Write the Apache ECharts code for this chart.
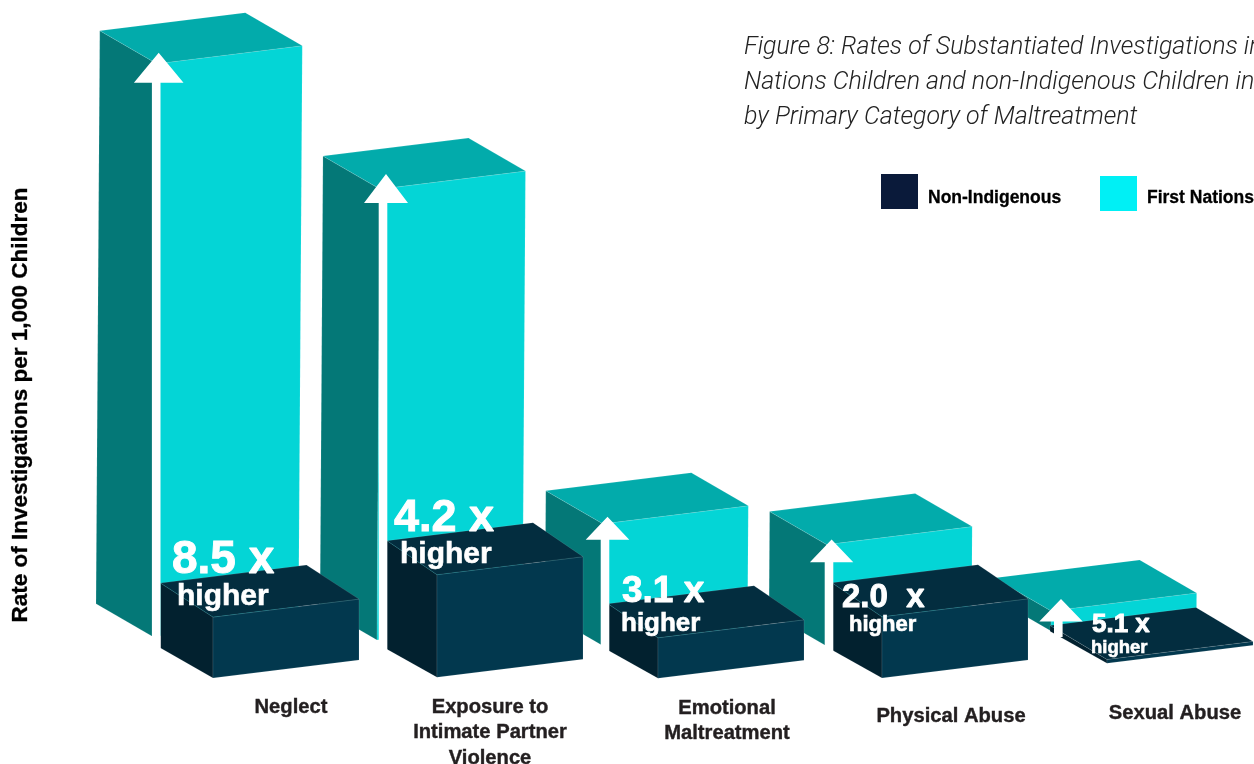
<!DOCTYPE html>
<html><head><meta charset="utf-8">
<style>html,body{margin:0;padding:0;background:#fff;overflow:hidden}#c{width:1254px;height:764px}</style>
<script src="https://cdn.jsdelivr.net/npm/echarts@6/dist/echarts.min.js"></script>
</head><body><div id="c"></div>
<script>
// ---- data ----
const CATEGORIES = ['Neglect','Exposure to\nIntimate Partner\nViolence','Emotional\nMaltreatment','Physical Abuse','Sexual Abuse'];
const FIRST_NATIONS = [19.1,15.03,4.05,3.37,0.67];
const NON_INDIGENOUS = [2.03,3.42,1.35,2.04,0.13];
const RATIOS = ['8.5 x','4.2 x','3.1 x','2.0  x','5.1 x'];
const HIGHER = 'higher';
const AXIS_TITLE = 'Rate of Investigations per 1,000 Children';
const FIGURE_TITLE = 'Figure 8: Rates of Substantiated Investigations in\nNations Children and non-Indigenous Children in\nby Primary Category of Maltreatment';

// ---- layout / perspective constants ----
const FN_W=[145.5,-18], FN_D=[57,33], TAPER=0.0066;
const FN_OFF_X=[-72,-72,-71,-71,-70], FN_BASE_SHIFT=[-3.3,0,5.3,5.7,-9];
const NI_W=[146,-18];
const NI_OFF_X=[-12,-12,-15,-15,-14], NI_BASE_SHIFT=[38,37.3,38.3,38,23.3];
const NI_DX=[52.5,50,50,50,57], NI_DY_TOP=34, NI_DY_BOT=[30,28,28,28,32];
const ARROW_DX=[-66.3,-63,-65.5,-65.4,-60], SHAFT_DX=[-2.5,-3,-2.5,-2.6,-2.7], ARROW_TIP=[-11,-15,-7,-5,-12], ARROW_HW=[24.8,22,21.8,21.7,21.7], ARROW_HH=[30,29,23,22.7,22.7];
const ARROW_END=[650,650,652,652,637];
const RATIO_X=[172,394,622,842,1092], RATIO_BASE=[574,532,603,608,632.7], RATIO_FONT=[46,45,37,33,26];
const HIGH_X=[177,400,621,849,1091], HIGH_BASE=[606,564,632,632,653], HIGH_FONT=[30,30,26,22,18.5];
const LABEL_DX=[66,41,54,54,54], LABEL_Y=[707,707,708,716,713], LABEL_LH=25.5;
const FN_C={front:'#04d5d6',top:'#02abab',side:'#047877'}, NI_C={front:'#02384e',top:'#032d3f',side:'#02212f'};
const FONT='"Liberation Sans",Arial,sans-serif';

const edge=(c)=>({fill:c,stroke:'rgba(255,255,255,0.18)',lineWidth:0.6});
function poly(points,c){return{type:'polygon',shape:{points},style:edge(c)};}

function renderFN(p,api){
  const i=api.value(0),zero=api.coord([i,0]),top=api.coord([i,api.value(1)]);
  const h=zero[1]-top[1],bx=zero[0]+FN_OFF_X[i],by=zero[1]+FN_BASE_SHIFT[i];
  const t=[bx+h*TAPER,by-h];
  const add=(a,b,s=1)=>[a[0]+b[0]*s,a[1]+b[1]*s];
  const b=[bx,by];
  return{type:'group',children:[
    poly([add(t,FN_D,-1),t,b,add(b,FN_D,-1)],FN_C.side),
    poly([t,add(t,FN_W),add(b,FN_W),b],FN_C.front),
    poly([add(t,FN_D,-1),add(add(t,FN_D,-1),FN_W),add(t,FN_W),t],FN_C.top)
  ]};
}
function renderNI(p,api){
  const i=api.value(0),zero=api.coord([i,0]),top=api.coord([i,api.value(1)]);
  const h=zero[1]-top[1],bx=zero[0]+NI_OFF_X[i],by=zero[1]+NI_BASE_SHIFT[i];
  const t=[bx,by-h],b=[bx,by],tb=[bx-NI_DX[i],by-h-NI_DY_TOP],bb=[bx-NI_DX[i],by-NI_DY_BOT[i]];
  const add=(a,c)=>[a[0]+c[0],a[1]+c[1]];
  return{type:'group',children:[
    poly([tb,t,b,bb],NI_C.side),
    poly([t,add(t,NI_W),add(b,NI_W),b],NI_C.front),
    poly([tb,add(tb,NI_W),add(t,NI_W),t],NI_C.top)
  ]};
}
function renderArrow(p,api){
  const i=api.value(0),zero=api.coord([i,0]),top=api.coord([i,api.value(1)]);
  const cx=zero[0]+ARROW_DX[i],sx=cx+SHAFT_DX[i],tip=top[1]+FN_BASE_SHIFT[i]+ARROW_TIP[i];
  const hw=ARROW_HW[i],hh=ARROW_HH[i],s=4.3;
  return{type:'polygon',shape:{points:[[cx,tip],[cx+hw,tip+hh],[sx+s,tip+hh],[sx+s,ARROW_END[i]],[sx-s,ARROW_END[i]],[sx-s,tip+hh],[cx-hw,tip+hh]]},style:{fill:'#fff'}};
}
function tx(text,x,y,size,fill,align,vAlign,bw){
  return{type:'text',style:{text,x,y,fill,stroke:fill,lineWidth:bw||0.4,fontSize:size,fontWeight:'bold',fontFamily:FONT,align:align||'left',verticalAlign:vAlign||'middle',lineHeight:LABEL_LH}};
}
function renderRatio(p,api){
  const i=api.value(0);
  const a=tx(RATIOS[i],RATIO_X[i],RATIO_BASE[i]-0.30*RATIO_FONT[i],RATIO_FONT[i],'#fff','left','middle',0.9);
  const b=tx(HIGHER,HIGH_X[i],HIGH_BASE[i]-0.30*HIGH_FONT[i],HIGH_FONT[i],'#fff','left','middle',0.6);
  a.style.lineHeight=RATIO_FONT[i]; b.style.lineHeight=HIGH_FONT[i];
  return{type:'group',children:[a,b]};
}
function renderLabel(p,api){
  const i=api.value(0),zero=api.coord([i,0]);
  return tx(CATEGORIES[i],zero[0]+LABEL_DX[i],LABEL_Y[i]-LABEL_LH/2,20.2,'#231f20','center','top');
}
const idx=(arr)=>arr.map((v,i)=>[i,v]);
const legendRich=(pad)=>({formatter:'{a|{name}}',textStyle:{rich:{a:{fontFamily:FONT,fontWeight:'bold',fontSize:17.5,color:'#000',textBorderColor:'#000',textBorderWidth:0.3,padding:[pad,0,0,5]}}}});
const chart=echarts.init(document.getElementById('c'),null,{renderer:'canvas'});
chart.setOption({
  animation:false,
  backgroundColor:'#fff',
  title:{text:FIGURE_TITLE,left:744,top:30,padding:0,textStyle:{fontFamily:'Roboto',fontStyle:'italic',fontWeight:300,fontSize:25,lineHeight:35,color:'#222'}},
  legend:[
    Object.assign({data:['Non-Indigenous'],left:881,top:174,itemWidth:37,itemHeight:35,icon:'rect',padding:0},legendRich(13)),
    Object.assign({data:['First Nations'],left:1100,top:176,itemWidth:37,itemHeight:35,icon:'rect',padding:0},legendRich(9))
  ],
  grid:{left:113,top:40,width:1120,height:600,outerBoundsMode:'none'},
  xAxis:{type:'category',data:CATEGORIES,axisLine:{show:false},axisTick:{show:false},axisLabel:{show:false}},
  yAxis:{type:'value',min:0,max:20,interval:5,splitLine:{show:false},axisLine:{show:false},axisTick:{show:false},axisLabel:{show:false},
    name:AXIS_TITLE,nameLocation:'middle',nameGap:81,nameRotate:90,
    nameTextStyle:{fontFamily:FONT,fontWeight:'bold',fontSize:22.5,color:'#000',textBorderColor:'#000',textBorderWidth:0.3,padding:[0,130,0,0]}},
  series:[
    {name:'First Nations',type:'custom',z:2,itemStyle:{color:'#00f0f5'},renderItem:renderFN,encode:{x:0,y:1},data:idx(FIRST_NATIONS)},
    {name:'Non-Indigenous',type:'custom',z:3,itemStyle:{color:'#0a1a3a'},renderItem:renderNI,encode:{x:0,y:1},data:idx(NON_INDIGENOUS)},
    {name:'arrows',type:'custom',z:4,renderItem:renderArrow,encode:{x:0,y:1},data:idx(FIRST_NATIONS)},
    {name:'ratios',type:'custom',z:5,renderItem:renderRatio,encode:{x:0,y:1},data:idx(RATIOS)},
    {name:'labels',type:'custom',z:5,renderItem:renderLabel,encode:{x:0,y:1},data:idx(CATEGORIES)}
  ]
});
</script></body></html>
